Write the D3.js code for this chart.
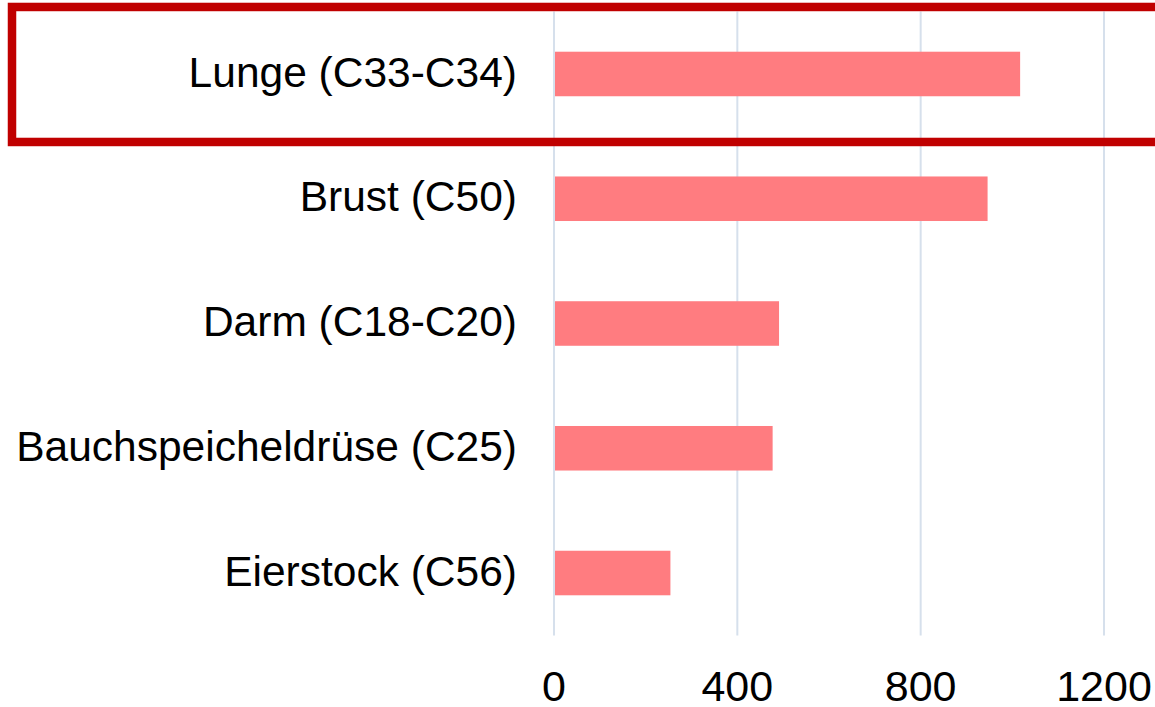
<!DOCTYPE html>
<html>
<head>
  <meta charset="utf-8">
  <title>Krebs nach Lokalisation</title>
  <script src="https://d3js.org/d3.v7.min.js"></script>
  <style>
    body { margin: 0; background: #fff; }
    text { font-family: "Liberation Sans", Arial, sans-serif; fill: #000; }
  </style>
</head>
<body>
  <svg id="chart" width="1155" height="707"></svg>

  <script>
    // data
    const categories = ["Lunge (C33-C34)", "Brust (C50)", "Darm (C18-C20)", "Bauchspeicheldrüse (C25)", "Eierstock (C56)"];
    const values = [1017, 946, 491, 477, 254];
    const xTicks = [0, 400, 800, 1200];
    const highlighted = "Lunge (C33-C34)";

    const svg = d3.select("#chart");
    const plotLeft = 554, plotRight = 1104, plotTop = 11.6, plotBottom = 635.4;

    const x = d3.scaleLinear().domain([0, 1200]).range([plotLeft, plotRight]);
    const y = d3.scaleBand().domain(categories).range([plotTop, plotBottom]).paddingInner(0.643).paddingOuter(0.3215);

    // gridlines
    svg.append("g")
      .selectAll("line")
      .data(xTicks)
      .join("line")
      .attr("x1", d => x(d)).attr("x2", d => x(d))
      .attr("y1", plotTop).attr("y2", plotBottom)
      .attr("stroke", "#d6e0ec")
      .attr("stroke-width", 2);

    // bars
    svg.append("g")
      .selectAll("rect")
      .data(values)
      .join("rect")
      .attr("x", x(0) + 1)
      .attr("y", (d, i) => y(categories[i]))
      .attr("width", d => x(d) - x(0) - 1)
      .attr("height", y.bandwidth())
      .attr("fill", "#ff7c80");

    // category labels
    svg.append("g")
      .selectAll("text")
      .data(categories)
      .join("text")
      .attr("x", 517)
      .attr("y", d => y(d) + y.bandwidth() / 2)
      .attr("dy", "0.3em")
      .attr("text-anchor", "end")
      .style("font-size", "42.5px")
      .text(d => d);

    // tick labels
    svg.append("g")
      .selectAll("text")
      .data(xTicks)
      .join("text")
      .attr("x", d => x(d))
      .attr("y", 701)
      .attr("text-anchor", "middle")
      .style("font-size", "43px")
      .text(d => d);

    // highlight box around the top category
    const hy = y(highlighted) + y.bandwidth() / 2;
    svg.append("rect")
      .attr("x", 12)
      .attr("y", hy - 67)
      .attr("width", 1200)
      .attr("height", 135)
      .attr("fill", "none")
      .attr("stroke", "#c00000")
      .attr("stroke-width", 8.5);
  </script>
</body>
</html>
